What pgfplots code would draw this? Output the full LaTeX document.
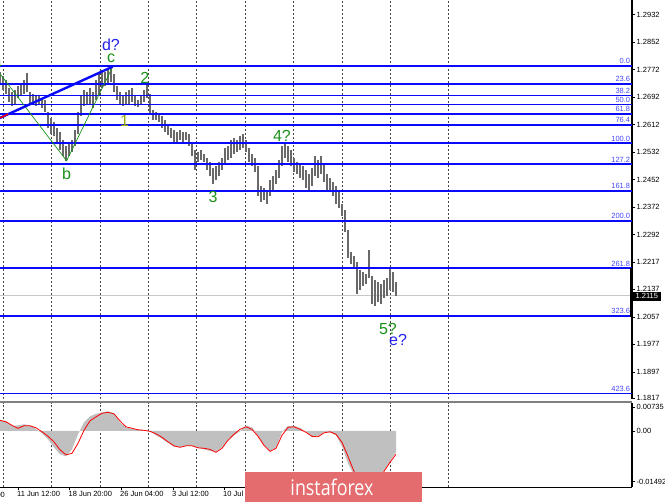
\documentclass[border=0pt]{standalone}
\usepackage{fontspec}
\setmainfont{Liberation Sans}
\newfontfamily\bannerfont{Open Sans}
\usepackage{pgfplots}
\usepackage{pgfplotstable}
\pgfplotsset{compat=1.18}

\definecolor{fibblue}{RGB}{10,10,250}
\definecolor{fibtext}{RGB}{70,70,255}
\definecolor{wgreen}{RGB}{25,145,25}
\definecolor{wolive}{RGB}{150,170,10}
\definecolor{wblue}{RGB}{35,35,235}
\definecolor{barcol}{RGB}{105,105,105}
\definecolor{histgray}{RGB}{192,192,192}
\definecolor{gridcol}{RGB}{70,70,70}
\definecolor{bannerred}{RGB}{228,108,110}

\newcommand{\tk}{\fontsize{7.5}{8}\selectfont}
\newcommand{\wv}{\fontsize{16}{16}\selectfont}

% price bars: bar index, low, high
\pgfplotstableread{
x l h
0 1.2731 1.2765
1 1.2713 1.2754
2 1.2701 1.2742
3 1.2678 1.2719
4 1.2667 1.2707
5 1.2672 1.2713
6 1.2690 1.2725
7 1.2696 1.2731
8 1.2701 1.2742
9 1.2707 1.2763
10 1.2672 1.2707
11 1.2672 1.2701
12 1.2667 1.2699
13 1.2672 1.2696
14 1.2661 1.2690
15 1.2649 1.2684
16 1.2603 1.2649
17 1.2585 1.2632
18 1.2579 1.2620
19 1.2562 1.2603
20 1.2539 1.2591
21 1.2521 1.2568
22 1.2507 1.2550
23 1.2521 1.2556
24 1.2533 1.2568
25 1.2550 1.2597
26 1.2585 1.2649
27 1.2637 1.2696
28 1.2667 1.2713
29 1.2672 1.2707
30 1.2672 1.2719
31 1.2661 1.2707
32 1.2684 1.2742
33 1.2696 1.2760
34 1.2719 1.2771
35 1.2725 1.2765
36 1.2731 1.2771
37 1.2736 1.2783
38 1.2707 1.2760
39 1.2684 1.2725
40 1.2672 1.2707
41 1.2667 1.2696
42 1.2672 1.2707
43 1.2672 1.2713
44 1.2678 1.2719
45 1.2667 1.2696
46 1.2664 1.2684
47 1.2672 1.2696
48 1.2678 1.2713
49 1.2690 1.2733
50 1.2643 1.2701
51 1.2626 1.2655
52 1.2626 1.2649
53 1.2620 1.2643
54 1.2603 1.2637
55 1.2591 1.2626
56 1.2582 1.2608
57 1.2573 1.2603
58 1.2556 1.2597
59 1.2562 1.2591
60 1.2568 1.2597
61 1.2562 1.2591
62 1.2568 1.2591
63 1.2550 1.2585
64 1.2521 1.2562
65 1.2480 1.2539
66 1.2504 1.2533
67 1.2509 1.2539
68 1.2504 1.2527
69 1.2480 1.2515
70 1.2463 1.2504
71 1.2440 1.2486
72 1.2451 1.2492
73 1.2463 1.2504
74 1.2480 1.2515
75 1.2498 1.2544
76 1.2509 1.2550
77 1.2515 1.2568
78 1.2527 1.2573
79 1.2533 1.2568
80 1.2539 1.2579
81 1.2544 1.2585
82 1.2533 1.2568
83 1.2504 1.2544
84 1.2492 1.2527
85 1.2475 1.2515
86 1.2405 1.2492
87 1.2387 1.2434
88 1.2393 1.2428
89 1.2381 1.2422
90 1.2405 1.2451
91 1.2416 1.2463
92 1.2440 1.2480
93 1.2457 1.2509
94 1.2492 1.2550
95 1.2515 1.2559
96 1.2504 1.2550
97 1.2492 1.2539
98 1.2475 1.2515
99 1.2469 1.2504
100 1.2457 1.2498
101 1.2451 1.2492
102 1.2428 1.2480
103 1.2422 1.2469
104 1.2434 1.2486
105 1.2463 1.2521
106 1.2457 1.2509
107 1.2469 1.2521
108 1.2445 1.2498
109 1.2422 1.2469
110 1.2416 1.2457
111 1.2405 1.2445
112 1.2381 1.2434
113 1.2370 1.2416
114 1.2346 1.2381
115 1.2300 1.2364
116 1.2224 1.2306
117 1.2207 1.2242
118 1.2195 1.2230
119 1.2120 1.2213
120 1.2131 1.2189
121 1.2143 1.2184
122 1.2149 1.2178
123 1.2166 1.2248
124 1.2090 1.2172
125 1.2085 1.2160
126 1.2096 1.2154
127 1.2090 1.2149
128 1.2108 1.2160
129 1.2114 1.2166
130 1.2131 1.2195
131 1.2125 1.2184
132 1.2114 1.2154
}\bars

% MACD: bar index, main (histogram), signal
\pgfplotstableread{
x m s
0 0.00277 0.00277
2 0.00264 0.00238
4 0.00127 0.00145
6 0.00145 0.00066
8 0.00172 0.00132
10 0.00145 0.00132
12 0.00040 0.00079
14 -0.00066 -0.00026
16 -0.00225 -0.00145
18 -0.00436 -0.00291
20 -0.00621 -0.00502
22 -0.00674 -0.00634
24 -0.00489 -0.00594
26 -0.00092 -0.00330
28 0.00225 0.00013
30 0.00383 0.00264
32 0.00449 0.00370
34 0.00489 0.00462
36 0.00515 0.00489
38 0.00462 0.00449
40 0.00225 0.00264
42 0.00092 0.00106
44 0.00053 0.00066
46 0.00040 0.00026
48 0.00026 0.00013
50 -0.00013 -0.00013
52 -0.00119 -0.00079
54 -0.00211 -0.00172
56 -0.00317 -0.00291
58 -0.00423 -0.00396
60 -0.00436 -0.00436
62 -0.00396 -0.00396
64 -0.00396 -0.00396
66 -0.00449 -0.00449
68 -0.00489 -0.00462
70 -0.00534 -0.00489
72 -0.00555 -0.00568
74 -0.00436 -0.00462
76 -0.00251 -0.00251
78 -0.00119 -0.00092
80 -0.00013 0.00040
82 0.00145 0.00106
84 0.00092 0.00040
86 -0.00145 -0.00145
88 -0.00383 -0.00383
90 -0.00534 -0.00542
92 -0.00436 -0.00462
94 -0.00040 -0.00119
96 0.00132 0.00092
98 0.00132 0.00106
100 0.00079 0.00040
102 -0.00026 -0.00040
104 -0.00172 -0.00145
106 -0.00145 -0.00159
108 -0.00040 -0.00053
110 -0.00040 -0.00026
112 -0.00119 -0.00092
114 -0.00410 -0.00304
116 -0.00859 -0.00674
118 -0.01176 -0.01070
120 -0.01334 -0.01334
122 -0.01387 -0.01466
124 -0.01387 -0.01480
126 -0.01229 -0.01413
128 -0.01044 -0.01070
130 -0.00806 -0.00832
132 -0.00568 -0.00621
}\macd

\pgfplotsset{
  fib/.style={fibblue, line width=1.8pt, forget plot},
}
\tikzset{
  mtgrid/.style={gridcol, line width=0.6pt, dash pattern=on 2pt off 2pt},
  fiblab/.style={anchor=south east, font=\tk, text=fibtext, inner sep=0pt, yshift=1.3pt, xshift=-1pt},
}

\begin{document}
\begin{tikzpicture}
% main price window
\begin{axis}[
  at={(0pt,504pt)}, anchor=north west,
  width=632pt, height=399pt, scale only axis,
  xmin=0, xmax=210.667, ymin=1.18139, ymax=1.2975,
  axis x line=none, axis y line*=right,
  axis line style={black, line width=1.2pt},
  ytick={1.2932,1.2852,1.2772,1.2692,1.2612,1.2532,1.2452,1.2372,1.2292,1.2212,1.2133,1.2053,1.1973,1.1893,1.1817},
  yticklabels={1.2932,1.2852,1.2772,1.2692,1.2612,1.2532,1.2452,1.2372,1.2292,1.2217,1.2137,1.2057,1.1977,1.1897,1.1817},
  scaled y ticks=false,
  tick align=outside, major tick length=3pt,
  tick style={black, line width=0.6pt},
  yticklabel style={font=\tk, anchor=west, inner sep=0pt, xshift=1.5pt},
  clip mode=individual,
]
\pgfplotsinvokeforeach{1.1,17.23,33.33,49.43,65.57,81.77,97.77,114,130.1,149.43}{
  \draw[mtgrid] (axis cs:#1,1.18139) -- (axis cs:#1,1.2975);
}
% current price line
\addplot[black!22, line width=0.7pt, forget plot] coordinates {(0,1.2115) (210.667,1.2115)};
% bars
\addplot[draw=none, mark=none, forget plot,
  error bars/.cd, y dir=plus, y explicit, error mark=none,
  error bar style={draw=barcol, line width=1.5pt}]
  table[x=x, y=l, y error expr=\thisrow{h}-\thisrow{l}] {\bars};
% fibonacci levels
\addplot[fib] coordinates {(0,1.2783) (210.667,1.2783)} node[pos=1, fiblab] {0.0};
\addplot[fib] coordinates {(0,1.2730) (210.667,1.2730)} node[pos=1, fiblab] {23.6};
\addplot[fib] coordinates {(0,1.2697) (210.667,1.2697)} node[pos=1, fiblab] {38.2};
\addplot[fib] coordinates {(0,1.2671) (210.667,1.2671)} node[pos=1, fiblab] {50.0};
\addplot[fib] coordinates {(0,1.2644) (210.667,1.2644)} node[pos=1, fiblab] {61.8};
\addplot[fib] coordinates {(0,1.2611) (210.667,1.2611)} node[pos=1, fiblab] {76.4};
\addplot[fib] coordinates {(0,1.2558) (210.667,1.2558)} node[pos=1, fiblab] {100.0};
\addplot[fib] coordinates {(0,1.2497) (210.667,1.2497)} node[pos=1, fiblab] {127.2};
\addplot[fib] coordinates {(0,1.2419) (210.667,1.2419)} node[pos=1, fiblab] {161.8};
\addplot[fib] coordinates {(0,1.2333) (210.667,1.2333)} node[pos=1, fiblab] {200.0};
\addplot[fib] coordinates {(0,1.2194) (210.667,1.2194)} node[pos=1, fiblab] {261.8};
\addplot[fib] coordinates {(0,1.2055) (210.667,1.2055)} node[pos=1, fiblab] {323.6};
\addplot[fib] coordinates {(0,1.1830) (210.667,1.1830)} node[pos=1, fiblab] {423.6};
% wave lines
\addplot[wgreen, line width=0.7pt, forget plot] coordinates {(-0.5,1.2766) (22.2,1.2507) (37.57,1.2781)};
\addplot[fibblue, line width=2.4pt, forget plot] coordinates {(-1,1.2628) (37.57,1.2781)};
\addplot[red, line width=1.4pt, forget plot] coordinates {(0,1.2632) (2.7,1.2643)};
% wave labels
\node[font=\wv, text=wgreen, inner sep=0pt] at (axis cs:-1,1.2795) {a};
\node[font=\wv, text=wblue, inner sep=0pt] at (axis cs:37,1.2844) {d?};
\node[font=\wv, text=wgreen, inner sep=0pt] at (axis cs:37,1.2804) {c};
\node[font=\wv, text=wgreen, inner sep=0pt] at (axis cs:48.3,1.2749) {2};
\node[font=\wv, text=wolive, inner sep=0pt] at (axis cs:41.5,1.2623) {1};
\node[font=\wv, text=wgreen, inner sep=0pt] at (axis cs:22.2,1.2469) {b};
\node[font=\wv, text=wgreen, inner sep=0pt] at (axis cs:71,1.2402) {3};
\node[font=\wv, text=wgreen, inner sep=0pt] at (axis cs:94,1.2579) {4?};
\node[font=\wv, text=wgreen, inner sep=0pt] at (axis cs:129.3,1.2018) {5?};
\node[font=\wv, text=wblue, inner sep=0pt] at (axis cs:132.7,1.1986) {e?};
\end{axis}

% MACD window
\begin{axis}[
  at={(0pt,101pt)}, anchor=north west,
  width=632pt, height=84.3pt, scale only axis,
  xmin=0, xmax=210.667, ymin=-0.01492, ymax=0.00735,
  axis x line*=bottom, axis y line*=right,
  axis line style={black, line width=1.2pt},
  xtick={6,23.17,40.33,57.67,74.67},
  xticklabels={11 Jun 12:00,18 Jun 20:00,26 Jun 04:00,3 Jul 12:00,10 Jul 20:00},
  xticklabel style={font=\tk, anchor=north west, inner sep=0pt, xshift=-1pt, yshift=-1pt},
  ytick={0.00621,0,-0.01344},
  yticklabels={0.00735,0.00,-0.01492},
  scaled y ticks=false,
  yticklabel style={font=\tk, anchor=west, inner sep=0pt, xshift=1.5pt},
  tick align=outside, major tick length=3pt,
  tick style={black, line width=0.6pt},
  clip mode=individual,
]
\pgfplotsinvokeforeach{1.1,17.23,33.33,49.43,65.57,81.77,97.77,114,130.1,149.43}{
  \draw[mtgrid] (axis cs:#1,-0.01492) -- (axis cs:#1,0.00735);
}
\addplot[fill=histgray, draw=none, forget plot] table[x=x, y=m] {\macd} \closedcycle;
\addplot[red, line width=0.8pt, forget plot] table[x=x, y=s] {\macd};
\node[font=\tk, anchor=north west, inner sep=0pt, xshift=-1pt, yshift=-4.3pt] at (axis cs:-11.17,-0.01492) {4 Jun 04:00};
\end{axis}

% window separator, price box, banner
\fill[black!50] (0pt,100.8pt) rectangle (632pt,103.3pt);
\draw[black, line width=2.4pt] (631.3pt,236pt) -- (631.3pt,187.3pt);
\fill[black] (632.7pt,203.3pt) rectangle (661pt,212.3pt);
\node[font=\tk, text=white, inner sep=0pt] at (646.8pt,207.8pt) {1.2115};
\fill[bannerred] (245pt,2pt) rectangle (422pt,31.5pt);
\node[text=white, inner sep=0pt] at (332pt,17pt) {\resizebox{83pt}{16.5pt}{\bannerfont instaforex}};

\pgfresetboundingbox
\path[use as bounding box] (0pt,0pt) rectangle (665pt,504pt);
\end{tikzpicture}
\end{document}
